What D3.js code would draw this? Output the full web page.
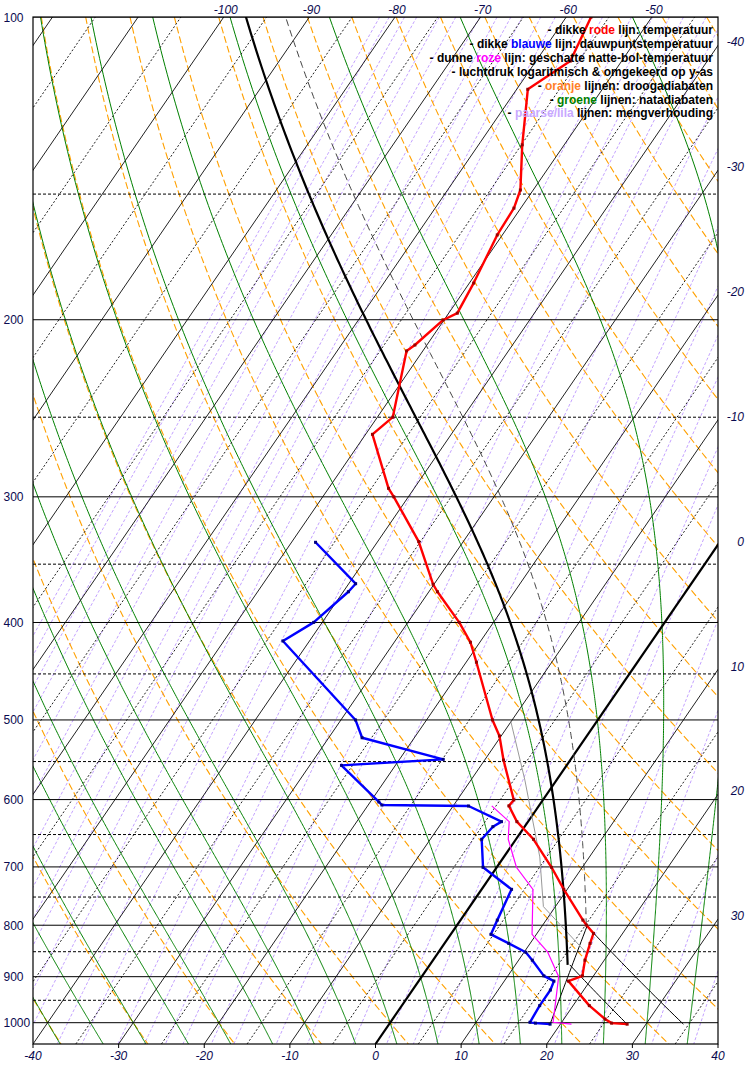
<!DOCTYPE html>
<html><head><meta charset="utf-8">
<script src="https://cdn.jsdelivr.net/npm/d3@7"></script>
<style>body{margin:0;background:#fff}svg{display:block}text{font-family:"Liberation Sans",Arial,sans-serif}</style>
</head><body>
<script>
// ---------- data ----------
const tempP = [100, 110.6, 118.0, 134.0, 148.6, 154.9, 164.7, 183.9, 197.0, 200.1, 211.9, 214.8, 250.0, 260.0, 294.2, 300.0, 332.4, 366.5, 372.8, 399.9, 418.5, 438.1, 500.0, 518.7, 548.1, 600.5, 608.7, 631.1, 657.1, 700.6, 736.9, 790.7, 799.7, 815.1, 834.0, 866.7, 898.3, 909.2, 961.7, 991.6, 1001, 1003.4];
const tempT = [-57.1, -56.0, -58.7, -54.9, -51.5, -50.8, -50.6, -49.5, -49.0, -50.1, -51.4, -51.9, -48.2, -49.2, -43.0, -41.7, -35.2, -30.1, -29.0, -24.0, -21.1, -18.8, -12.3, -10.2, -7.8, -3.4, -3.5, -1.3, 2.05, 6.4, 9.6, 14.3, 15.1, 16.6, 17.0, 17.75, 18.7, 17.5, 21.9, 24.8, 25.9, 27.8];
const dewP = [332.9, 366.0, 372.8, 399.9, 417.3, 500.0, 520.8, 547.2, 554.8, 603.3, 607.5, 608.9, 631.1, 638.4, 657.1, 700.6, 736.9, 790.7, 816.9, 834.0, 851.1, 866.7, 898.3, 909.2, 927.9, 961.7, 999.1, 1001, 1003.4];
const dewT = [-47.2, -39.2, -39.4, -41.0, -43.1, -28.3, -26.1, -14.9, -26.3, -19.0, -18.4, -8.2, -3.1, -3.7, -4.0, -1.6, 3.5, 4.3, 4.7, 7.5, 10.2, 11.6, 14.2, 15.8, 16.1, 16.1, 16.3, 17.0, 18.8];
const wetP = [608.7, 631.1, 657.1, 700.6, 736.9, 816.9, 850.1, 900, 999.1, 1003.4];
const wetT = [-5.5, -2.2, -0.9, 2.3, 6.0, 9.5, 12.7, 16.0, 19.0, 21.3];
const greyP = [500, 573.8, 684.2, 766.6, 853.1];
const greyT = [-10.2, -3.7, 4.2, 8.6, 17.4];
// parcel construction points: [pressure, temperature]
const surfaceT = [1003.4, 27.8];
const surfaceTd = [1003.4, 18.8];
const lcl = [876, 16.1];
const ccl = [800, 15.1];
// grid values
const pressureLabels = [100, 200, 300, 400, 500, 600, 700, 800, 900, 1000];
const pressureHalf = [150, 250, 350, 450, 550, 650, 750, 850, 950];
const bottomTicks = [-40, -30, -20, -10, 0, 10, 20, 30, 40];
const topLabels = [-100, -90, -80, -70, -60, -50];
const rightLabels = [-40, -30, -20, -10, 0, 10, 20, 30];
const isotherms = d3.range(-125, 45, 5);
const dryAdiabats = d3.range(-40, 230, 10);
const moistAdiabats = d3.range(-40, 45, 5);
const mixingRatios = [0.005, 0.006, 0.008, 0.01, 0.015, 0.02, 0.03, 0.04, 0.05, 0.06, 0.08, 0.1, 0.15, 0.2, 0.3, 0.4, 0.5, 0.6, 0.8, 1, 1.5, 2, 3, 4, 5, 6, 8, 10, 15, 20, 30, 40];
const legendLines = [
  [["- dikke ", "#000"], ["rode", "#ff0000"], [" lijn: temperatuur", "#000"]],
  [["- dikke ", "#000"], ["blauwe", "#0000ff"], [" lijn: dauwpuntstemperatuur", "#000"]],
  [["- dunne ", "#000"], ["roze", "#ff00ff"], [" lijn: geschatte natte-bol-temperatuur", "#000"]],
  [["- luchtdruk logaritmisch & omgekeerd op y-as", "#000"]],
  [["- ", "#000"], ["oranje", "#ff7f27"], [" lijnen: droogadiabaten", "#000"]],
  [["- ", "#000"], ["groene", "#008000"], [" lijnen: natadiabaten", "#000"]],
  [["- ", "#000"], ["paarse/lila", "#c8a8ff"], [" lijnen: mengverhouding", "#000"]]
];

// ---------- scales ----------
const W = 745, H = 1075;
const plotL = 33, plotR = 718, plotT = 17, plotB = 1044;
const y = d3.scaleLog().domain([100, 1050]).range([plotT, plotB]);
const xT = d3.scaleLinear().domain([-40, 40]).range([plotL, plotR]);
const SKEW = 0.686;
const X = (T, p) => xT(T) + SKEW * (plotB - y(p));

// thermodynamics for the background grid
const Rd = 287.04, cp = 1005.7, Lv = 2.501e6, eps = 0.622, K0 = 273.15;
const es = Tc => 6.112 * Math.exp(17.67 * Tc / (Tc + 243.5));
const rs = (Tc, p) => { const e = es(Tc); return eps * e / (p - e); };
const dTdp = (Tk, p) => { const r = rs(Tk - K0, p); return (1 / p) * (Rd * Tk + Lv * r) / (cp + (Lv * Lv * r * eps) / (Rd * Tk * Tk)); };
function moist(T0, p0, pEnd) {
  const pts = [[p0, T0]]; let Tk = T0 + K0, p = p0; const h = pEnd < p0 ? -2 : 2;
  while ((h < 0 && p > pEnd) || (h > 0 && p < pEnd)) {
    const k1 = dTdp(Tk, p), k2 = dTdp(Tk + h / 2 * k1, p + h / 2), k3 = dTdp(Tk + h / 2 * k2, p + h / 2), k4 = dTdp(Tk + h * k3, p + h);
    Tk += h / 6 * (k1 + 2 * k2 + 2 * k3 + k4); p += h; pts.push([p, Tk - K0]);
  }
  return pts;
}
const dry = (thC, p) => (thC + K0) * Math.pow(p / 1000, 0.2857) - K0;
const mixT = (w, p) => { const e = w * p / (622 + w); const l = Math.log(e / 6.112); return 243.5 * l / (17.67 - l); };
const pSamples = d3.range(0, 121).map(i => 100 * Math.pow(10.5, i / 120));

const svg = d3.select("body").append("svg").attr("width", W).attr("height", H);
svg.append("defs").append("clipPath").attr("id", "plot").append("rect")
  .attr("x", plotL).attr("y", plotT).attr("width", plotR - plotL).attr("height", plotB - plotT);
const g = svg.append("g").attr("clip-path", "url(#plot)");
const line = d3.line().x(d => X(d[1], d[0])).y(d => y(d[0]));

// mixing ratio lines
g.append("g").selectAll("path").data(mixingRatios).join("path")
  .attr("d", w => line(pSamples.map(p => [p, mixT(w, p)])))
  .attr("fill", "none").attr("stroke", "#c4a2ff").attr("stroke-width", 1).attr("stroke-dasharray", "3,2");
// dry adiabats
g.append("g").selectAll("path").data(dryAdiabats).join("path")
  .attr("d", th => line(pSamples.map(p => [p, dry(th, p)])))
  .attr("fill", "none").attr("stroke", "#ffa000").attr("stroke-width", 1.1).attr("stroke-dasharray", "7,3");
// moist adiabats
g.append("g").selectAll("path").data(moistAdiabats).join("path")
  .attr("d", t => line(moist(t, 1000, 1050).reverse().concat(moist(t, 1000, 100).slice(1))))
  .attr("fill", "none").attr("stroke", "#008000").attr("stroke-width", 1);
// isotherms
g.append("g").selectAll("line").data(isotherms).join("line")
  .attr("x1", t => X(t, 1050)).attr("y1", y(1050)).attr("x2", t => X(t, 100)).attr("y2", y(100))
  .attr("stroke", "#222").attr("stroke-width", 1)
  .attr("stroke-dasharray", t => t % 10 === 0 ? null : "2,2");
// pressure lines
g.append("g").selectAll("line").data(pressureLabels).join("line")
  .attr("x1", plotL).attr("x2", plotR).attr("y1", p => y(p)).attr("y2", p => y(p))
  .attr("stroke", "#000").attr("stroke-width", 1);
g.append("g").selectAll("line").data(pressureHalf).join("line")
  .attr("x1", plotL).attr("x2", plotR).attr("y1", p => y(p)).attr("y2", p => y(p))
  .attr("stroke", "#000").attr("stroke-width", 1).attr("stroke-dasharray", "3,2");

// 0 degree isotherm, thick
g.append("line").attr("x1", X(0, 1050)).attr("y1", y(1050)).attr("x2", X(0, 100)).attr("y2", y(100))
  .attr("stroke", "#000").attr("stroke-width", 2.2);

// parcel constructions
const thetaSurf = (surfaceT[1] + K0) * Math.pow(1000 / surfaceT[0], 0.2857) - K0;
const thetaCcl = (ccl[1] + K0) * Math.pow(1000 / ccl[0], 0.2857) - K0;
const wSurf = 622 * es(surfaceTd[1]) / (surfaceTd[0] - es(surfaceTd[1]));
g.append("path").attr("d", line(d3.range(0, 21).map(i => { const p = surfaceT[0] + (lcl[0] - surfaceT[0]) * i / 20; return [p, dry(thetaSurf, p)]; })))
  .attr("fill", "none").attr("stroke", "#000").attr("stroke-width", 1);
g.append("path").attr("d", line(d3.range(0, 21).map(i => { const p = surfaceTd[0] + (ccl[0] - surfaceTd[0]) * i / 20; return [p, mixT(wSurf, p)]; })))
  .attr("fill", "none").attr("stroke", "#000").attr("stroke-width", 1);
g.append("path").attr("d", line(d3.range(0, 21).map(i => { const p = ccl[0] + (surfaceT[0] - ccl[0]) * i / 20; return [p, dry(thetaCcl, p)]; })))
  .attr("fill", "none").attr("stroke", "#000").attr("stroke-width", 1);
g.append("path").attr("d", line(d3.zip(greyP, greyT)))
  .attr("fill", "none").attr("stroke", "#999").attr("stroke-width", 1);
g.append("path").attr("d", line(moist(ccl[1], ccl[0], 95)))
  .attr("fill", "none").attr("stroke", "#444").attr("stroke-width", 1).attr("stroke-dasharray", "7,4");
g.append("path").attr("d", line(moist(lcl[1], lcl[0], 95)))
  .attr("fill", "none").attr("stroke", "#000").attr("stroke-width", 2.2);

// observed profiles
g.append("path").attr("d", line(d3.zip(wetP, wetT))).attr("fill", "none").attr("stroke", "#ff00ff").attr("stroke-width", 1.2);
g.append("path").attr("d", line(d3.zip(dewP, dewT))).attr("fill", "none").attr("stroke", "#0000ff").attr("stroke-width", 2.4).attr("stroke-linejoin", "round");
g.append("g").selectAll("rect").data(d3.zip(dewP, dewT)).join("rect")
  .attr("x", d => X(d[1], d[0]) - 1.5).attr("y", d => y(d[0]) - 1.5).attr("width", 3).attr("height", 3).attr("fill", "#000080");
g.append("path").attr("d", line(d3.zip(tempP, tempT))).attr("fill", "none").attr("stroke", "#ff0000").attr("stroke-width", 2.4).attr("stroke-linejoin", "round");
g.append("g").selectAll("rect").data(d3.zip(tempP, tempT)).join("rect")
  .attr("x", d => X(d[1], d[0]) - 1.5).attr("y", d => y(d[0]) - 1.5).attr("width", 3).attr("height", 3).attr("fill", "#990000");

// frame
svg.append("rect").attr("x", plotL).attr("y", plotT).attr("width", plotR - plotL).attr("height", plotB - plotT)
  .attr("fill", "none").attr("stroke", "#000").attr("stroke-width", 1.2);

// axes labels
const lab = "#0a0a50";
svg.append("g").selectAll("text").data(pressureLabels).join("text")
  .attr("x", 3.5).attr("y", p => y(p) + 4.5).attr("text-anchor", "start").attr("font-size", 12).attr("fill", lab).text(d => d);
svg.append("g").selectAll("line").data(bottomTicks).join("line")
  .attr("x1", t => xT(t)).attr("x2", t => xT(t)).attr("y1", plotB).attr("y2", plotB + 4).attr("stroke", "#000");
svg.append("g").selectAll("text").data(bottomTicks).join("text")
  .attr("x", t => xT(t)).attr("y", plotB + 16).attr("text-anchor", "middle").attr("font-size", 12)
  .attr("font-style", "italic").attr("fill", lab).text(d => d);
svg.append("g").selectAll("text").data(topLabels).join("text")
  .attr("x", t => X(t, 100) + 2).attr("y", plotT - 3).attr("text-anchor", "middle").attr("font-size", 12)
  .attr("font-style", "italic").attr("fill", lab).text(d => d);
svg.append("g").selectAll("text").data(rightLabels).join("text")
  .attr("x", 744).attr("y", t => plotB - (plotR - xT(t)) / SKEW + 1).attr("text-anchor", "end").attr("font-size", 12)
  .attr("font-style", "italic").attr("fill", lab).text(d => d);

// legend
const leg = svg.append("g");
legendLines.forEach((parts, i) => {
  const t = leg.append("text").attr("x", 713).attr("y", 34 + i * 13.9).attr("text-anchor", "end")
    .attr("font-size", 12).attr("font-weight", "bold");
  parts.forEach(pt => t.append("tspan").attr("fill", pt[1]).text(pt[0]));
});
</script>
</body></html>
